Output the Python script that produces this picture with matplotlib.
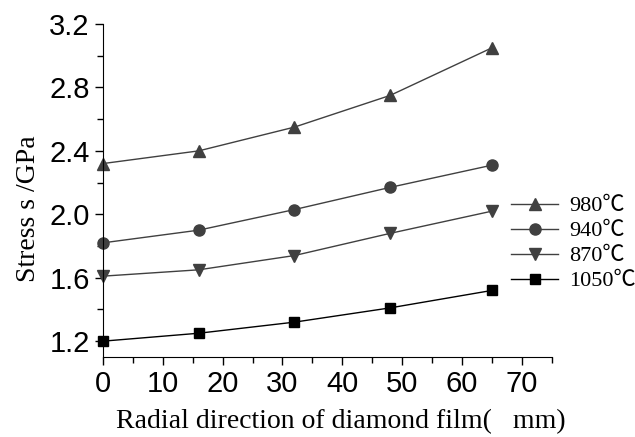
import matplotlib.pyplot as plt
from matplotlib.ticker import MultipleLocator

# data
radial = [0, 16, 32, 48, 65]
stress_980 = [2.32, 2.40, 2.55, 2.75, 3.05]
stress_940 = [1.82, 1.90, 2.03, 2.17, 2.31]
stress_870 = [1.61, 1.65, 1.74, 1.88, 2.02]
stress_1050 = [1.20, 1.25, 1.32, 1.41, 1.52]
series_labels = ['980℃', '940℃', '870℃', '1050℃']


def main():
    fig = plt.figure(figsize=(6.35, 4.37), dpi=100)
    ax = fig.add_axes([0.162, 0.183, 0.707, 0.762])

    gray = '#404040'
    ax.plot(radial, stress_980, color=gray, lw=1, marker='^', ms=9,
            label=series_labels[0], clip_on=False)
    ax.plot(radial, stress_940, color=gray, lw=1, marker='o', ms=8,
            label=series_labels[1], clip_on=False)
    ax.plot(radial, stress_870, color=gray, lw=1, marker='v', ms=9,
            label=series_labels[2], clip_on=False)
    ax.plot(radial, stress_1050, color='black', lw=1, marker='s', ms=7.5,
            label=series_labels[3], clip_on=False)

    ax.set_xlim(0, 75)
    ax.set_ylim(1.1, 3.2)
    ax.xaxis.set_major_locator(MultipleLocator(10))
    ax.xaxis.set_minor_locator(MultipleLocator(5))
    ax.yaxis.set_minor_locator(MultipleLocator(0.2))
    ax.set_yticks([1.2, 1.6, 2.0, 2.4, 2.8, 3.2])

    ax.spines['top'].set_visible(False)
    ax.spines['right'].set_visible(False)
    ax.tick_params(which='major', direction='out', length=6, width=1)
    ax.tick_params(which='minor', direction='out', length=4, width=1)
    for lab in ax.get_xticklabels() + ax.get_yticklabels():
        lab.set_family('Liberation Sans')
        lab.set_fontsize(21)

    ax.set_xlabel('Radial direction of diamond film(   mm)',
                  family='Liberation Serif', fontsize=20, labelpad=8, x=0.53)
    ax.set_ylabel('Stress s /GPa', family='Liberation Serif', fontsize=20,
                  labelpad=6, y=0.445)

    ax.legend(loc='upper left', bbox_to_anchor=(0.805, 0.552),
              bbox_transform=fig.transFigure, frameon=False,
              borderpad=0, borderaxespad=0, handlelength=2.1,
              handletextpad=0.5, labelspacing=0.2,
              prop={'family': ['Liberation Serif', 'Noto Sans CJK SC'],
                    'size': 16})

    fig.savefig('out.png', dpi=100)


if __name__ == '__main__':
    main()
